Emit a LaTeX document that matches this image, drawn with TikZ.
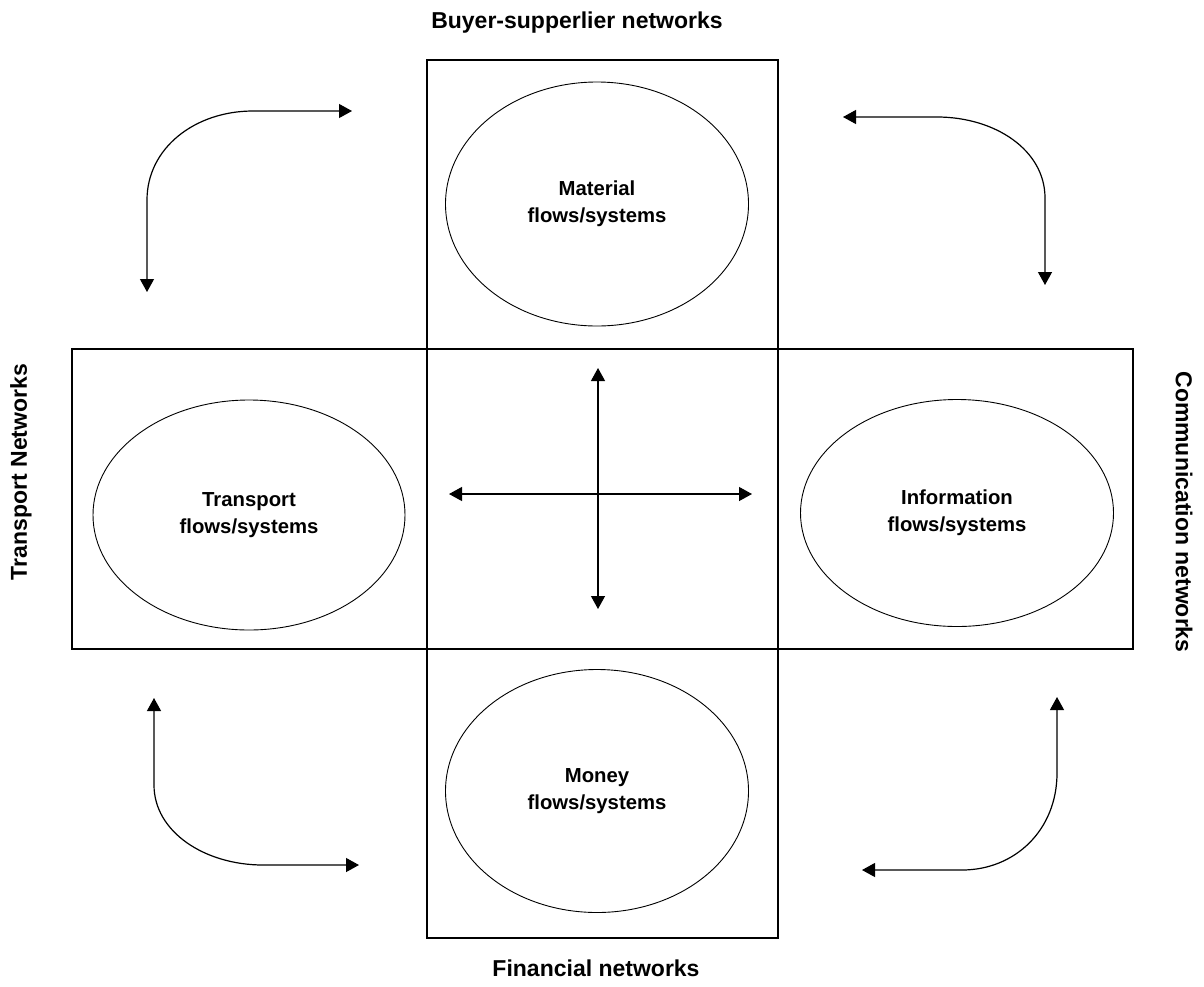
\documentclass[tikz,border=0pt]{standalone}
\usepackage{fontspec}
\setmainfont{Liberation Sans}
\usetikzlibrary{arrows.meta,shapes.geometric}
\begin{document}
\begin{tikzpicture}[x=1pt,y=-1pt,
  box/.style={draw,line width=1.3pt},
  flow/.style={draw,ellipse,line width=0.9pt,inner sep=0pt,align=center,font=\fontsize{20.3}{27}\selectfont\bfseries},
  lbl/.style={font=\fontsize{23}{26}\selectfont\bfseries,inner sep=0pt},
  conn/.style={line width=1.2pt,{Triangle[length=13pt,width=14pt]}-{Triangle[length=13pt,width=14pt]}}
]
\useasboundingbox (0,0) rectangle (1204,986);
% boxes
\draw[box] (427,60) rectangle (778,349);
\draw[box] (72,349) rectangle (1133,649);
\draw[box] (427,349) -- (427,649);
\draw[box] (778,349) -- (778,649);
\draw[box] (427,649) rectangle (778,938);
% ellipses
\node[flow,minimum width=303pt,minimum height=244pt] (mat) at (597,204) {Material\\flows/systems};
\node[flow,minimum width=312pt,minimum height=230pt] (tra) at (249,515) {Transport\\flows/systems};
\node[flow,minimum width=313pt,minimum height=227pt] (inf) at (957,513) {Information\\flows/systems};
\node[flow,minimum width=303pt,minimum height=243pt] (mon) at (597,791) {Money\\flows/systems};
% outer labels
\node[lbl] (buy) at (577,23) {Buyer-supperlier networks};
\node[lbl] (fin) at (596,968) {Financial networks};
\node[lbl,rotate=90] (trn) at (21,472) {Transport Networks};
\node[lbl,rotate=-90] (com) at (1184,512) {Communication networks};
% central cross
\coordinate (vt) at (598,368);
\coordinate (vb) at (598,609);
\coordinate (hl) at (449,494);
\coordinate (hr) at (752,494);
\draw[conn] (vt) -- (vb);
\draw[conn] (hl) -- (hr);
% corner arrows
\coordinate (tl1) at (147,292);
\coordinate (tl2) at (352,111);
\draw[conn] (tl1) -- (147,200) .. controls (147,148) and (195,111) .. (253,111) -- (tl2);
\coordinate (tr1) at (843,117);
\coordinate (tr2) at (1045,285);
\draw[conn] (tr1) -- (937,117) .. controls (995,117) and (1045,150) .. (1045,198) -- (tr2);
\coordinate (bl1) at (154,698);
\coordinate (bl2) at (359,865);
\draw[conn] (bl1) -- (154,785) .. controls (154,832) and (205,865) .. (263,865) -- (bl2);
\coordinate (br1) at (1057,697);
\coordinate (br2) at (862,870);
\draw[conn] (br1) -- (1057,773) .. controls (1057,830) and (1015,870) .. (962,870) -- (br2);
\end{tikzpicture}
\end{document}
